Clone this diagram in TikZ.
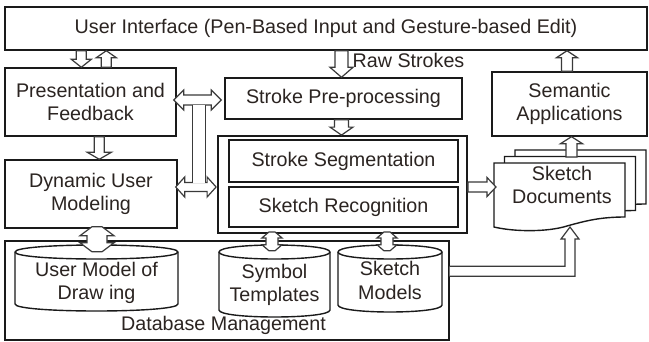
\documentclass[tikz,border=0pt]{standalone}
\usepackage{fontspec}
\setmainfont{Liberation Sans}
\usetikzlibrary{calc}
\definecolor{txt}{HTML}{2B2421}
\definecolor{ln}{HTML}{1A1A1A}
\definecolor{al}{HTML}{3A3A3A}
\tikzset{
 box/.style={draw=ln, line width=1.4pt, fill=white, inner sep=0pt, text=txt, align=center, font=\fontsize{19.7}{23.5}\selectfont},
 lbl/.style={inner sep=0pt, text=txt, align=center, font=\fontsize{19.7}{23.5}\selectfont},
 arr/.style={draw=al, line width=1.2pt, fill=white, line join=miter},
 cylst/.style={draw=ln, line width=1.4pt, fill=white},
 docst/.style={draw=ln, line width=1.4pt, fill=white},
}
% single block arrow: from, to, shaft half width, head half width, head length
\newcommand\sarr[5]{%
 \coordinate (hb) at ($(#2)!#5!(#1)$);
 \draw[arr] ($(#1)!#3!90:(#2)$) -- ($(hb)!#3!90:(#2)$) -- ($(hb)!#4!90:(#2)$) -- (#2) -- ($(hb)!#4!-90:(#2)$) -- ($(hb)!#3!-90:(#2)$) -- ($(#1)!#3!-90:(#2)$) -- cycle;}
% double block arrow: from, to, shaft hw, head hw, head length, tip hw
\newcommand\darr[6]{%
 \coordinate (ha) at ($(#1)!#5!(#2)$);
 \coordinate (hb) at ($(#2)!#5!(#1)$);
 \draw[arr] ($(#1)!#6!90:(#2)$) -- ($(ha)!#4!90:(#2)$) -- ($(ha)!#3!90:(#2)$) -- ($(hb)!#3!-90:(#1)$) -- ($(hb)!#4!-90:(#1)$) -- ($(#2)!#6!-90:(#1)$) -- ($(#2)!#6!90:(#1)$) -- ($(hb)!#4!90:(#1)$) -- ($(hb)!#3!90:(#1)$) -- ($(ha)!#3!-90:(#2)$) -- ($(ha)!#4!-90:(#2)$) -- ($(#1)!#6!-90:(#2)$) -- cycle;}
% cylinder: name, x1, x2, ytop, ybottom, text, text offset
\newcommand\cyl[7]{%
 \node[inner sep=0pt, minimum width={#3pt-#2pt}, minimum height={#5pt-#4pt}] (#1) at ({(#2+#3)/2},{(#4+#5)/2}) {};
 \draw[cylst] (#2,#4+7) -- (#2,#5-7) .. controls (#2,#5+2.33) and (#3,#5+2.33) .. (#3,#5-7) -- (#3,#4+7) .. controls (#3,#4-2.33) and (#2,#4-2.33) .. cycle;
 \draw[cylst] (#2,#4+7) .. controls (#2,#4+16.33) and (#3,#4+16.33) .. (#3,#4+7);
 \node[lbl] (#1t) at ({(#2+#3)/2},{(#4+#5)/2+#7}) {#6};}
\newcommand\docshape[2]{%
 \draw[docst, shift={(#1,#2)}] (494,163) -- (625,163) -- (625,217) .. controls (600,217) and (585,221) .. (567,226) .. controls (548,232) and (515,232) .. (494,227) -- cycle;}
\begin{document}
\begin{tikzpicture}[x=1pt,y=-1pt]
\useasboundingbox (0,0) rectangle (649,341);
\fill[white] (0,0) rectangle (649,341);

\node[box, minimum width=642pt, minimum height=43pt] (ui) at (326,28.5) {User Interface (Pen-Based Input and Gesture-based Edit)};
\node[box, minimum width=171pt, minimum height=68pt] (pres) at (90.5,102) {Presentation and\\Feedback};
\node[box, minimum width=172pt, minimum height=68pt] (dyn) at (91,194) {Dynamic User\\Modeling};
\node[box, minimum width=237pt, minimum height=41pt] (pre) at (343.5,98.5) {Stroke Pre-processing};
\node[box, minimum width=155pt, minimum height=64pt] (sem) at (569.5,104) {Semantic\\Applications};
\node[box, line width=1.8pt, minimum width=249pt, minimum height=97pt] (outer) at (342.5,184.5) {};
\node[box, line width=1.6pt, minimum width=229pt, minimum height=42pt] (seg) at (343.5,161) {Stroke Segmentation};
\node[box, line width=1.6pt, minimum width=229pt, minimum height=40pt] (rec) at (343.5,207) {Sketch Recognition};
\node[box, minimum width=444pt, minimum height=99pt] (db) at (227,290.5) {};
\node[lbl] (dbt) at (223.5,325) {Database Management};

\cyl{um}{15}{178}{245}{311}{User Model of\\Draw ing}{5}
\cyl{st}{219}{330}{245}{317}{Symbol\\Templates}{4}
\cyl{sm}{338}{442}{245}{312}{Sketch\\Models}{2}

\docshape{21}{-13}
\docshape{10.5}{-6.5}
\docshape{0}{0}
\node[lbl] (docs) at (562,185) {Sketch\\Documents};
\coordinate (docL) at (496,187);
\coordinate (docT) at (571.5,157);
\coordinate (docB) at (570,227);

% UI <-> Presentation
\coordinate (a1b) at ($(pres.north west)+(77,0)$);
\coordinate (a1a) at (a1b |- ui.south);
\sarr{a1a}{a1b}{5pt}{10pt}{8pt}
\coordinate (a2a) at ($(pres.north west)+(102,0)$);
\coordinate (a2b) at (a2a |- ui.south);
\sarr{a2a}{a2b}{5pt}{10pt}{7pt}
% Presentation -> Dynamic
\coordinate (a5a) at ($(pres.south west)+(95,0)$);
\coordinate (a5b) at (a5a |- dyn.north);
\sarr{a5a}{a5b}{5pt}{12pt}{7pt}
% Raw strokes
\coordinate (a3b) at ($(pre.north)+(-2,0)$);
\coordinate (a3a) at (a3b |- ui.south);
\sarr{a3a}{a3b}{6.5pt}{11.5pt}{10pt}
\node[lbl, anchor=base west] (raw) at ($(a3a)+(11,17)$) {Raw Strokes};
% Pre-processing -> recognition group
\coordinate (a4a) at ($(pre.south)+(-2,0)$);
\coordinate (a4b) at (a4a |- outer.north);
\sarr{a4a}{a4b}{7pt}{11.5pt}{8pt}

% left double arrows with vertical link
\coordinate (l1a) at ($(pres.east)+(-3,-2)$);
\coordinate (l1b) at ($(pre.west)+(-3,1.5)$);
\coordinate (l2a) at ($(dyn.east)+(-2,-7)$);
\coordinate (l2b) at ($(l2a -| outer.west)+(-1,0)$);
\darr{l1a}{l1b}{5pt}{10pt}{10pt}{0pt}
\darr{l2a}{l2b}{4.5pt}{10pt}{9pt}{0pt}
\coordinate (vt) at ($(l1a)+(25.5,5)$);
\coordinate (vb) at ($(vt |- l2a)+(0,-4.5)$);
\fill[white] ($(vt)+(-6.5,0)$) rectangle ($(vb)+(6.5,0)$);
\draw[al, line width=1.2pt] ($(vt)+(-6.5,0)$) -- ($(vb)+(-6.5,0)$) ($(vt)+(6.5,0)$) -- ($(vb)+(6.5,0)$);

% database arrows
\coordinate (a8a) at ($(dyn.south)+(6,-2)$);
\coordinate (a8b) at ($(um.north)+(0.5,7)$);
\darr{a8a}{a8b}{10pt}{17pt}{9pt}{5pt}
\coordinate (a9a) at ($(outer.south)+(-70.5,-2)$);
\coordinate (a9b) at ($(a9a |- st.north)+(0,6)$);
\darr{a9a}{a9b}{6pt}{10pt}{6pt}{3pt}
\coordinate (a10a) at ($(outer.south)+(44.5,-2)$);
\coordinate (a10b) at ($(a10a |- sm.north)+(0,6)$);
\darr{a10a}{a10b}{6pt}{10pt}{6pt}{3pt}

% recognition -> documents
\coordinate (a13a) at ($(outer.east)+(0,2.5)$);
\sarr{a13a}{docL}{5pt}{9.5pt}{9pt}
% documents -> semantic
\coordinate (a11b) at (docT |- sem.south);
\sarr{docT}{a11b}{5.5pt}{11pt}{7pt}
% semantic -> UI
\coordinate (a12a) at ($(sem.north)+(-2.5,0)$);
\coordinate (a12b) at (a12a |- ui.south);
\sarr{a12a}{a12b}{5.5pt}{10.5pt}{7pt}

% sketch models -> documents (elbow)
\coordinate (m1) at ($(db.north east)+(0,26)$);
\coordinate (m2) at ($(db.north east)+(0,36)$);
\draw[arr] (m1) -- ($(m1 -| docB)+(-5,0)$) -- ($(docB)+(-5,12)$) -- ($(docB)+(-9,12)$) -- (docB) -- ($(docB)+(9,12)$) -- ($(docB)+(5,12)$) -- ($(m2 -| docB)+(5,0)$) -- (m2);
\end{tikzpicture}
\end{document}
